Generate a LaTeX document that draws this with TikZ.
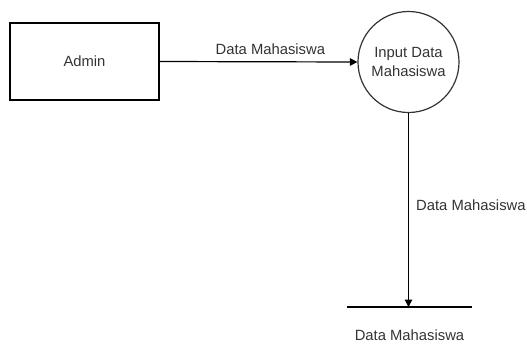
\documentclass[tikz,border=0pt]{standalone}
\usepackage{fontspec}
\setmainfont{Liberation Sans}
\usetikzlibrary{arrows.meta}
\begin{document}
\begin{tikzpicture}[x=1pt,y=-1pt,
  lbl/.style={font=\fontsize{14.8}{17}\selectfont, text=black!80, inner sep=0pt},
  flow/.style={draw=black, line width=1.2pt, -{Triangle[length=7.5pt,width=7.5pt]}},
  entity/.style={draw=black, line width=1.2pt, minimum width=149pt, minimum height=77pt, inner sep=0pt},
  proc/.style={draw=black!80, line width=1.2pt, circle, minimum size=101pt, inner sep=0pt, align=center, font=\fontsize{14.8}{19.5}\selectfont, text=black!80}]
\useasboundingbox (0,0) rectangle (527,354);
\node[entity] (admin) at (84.5,61.5) {};
\node[lbl] at (admin.center) {Admin};
\node[proc] (input) at (408.5,62) {Input Data\\Mahasiswa};
\coordinate (storel) at (347,307);
\coordinate (storer) at (472,307);
\coordinate (storein) at (408.5,307);
\draw[line width=1.5pt] (storel) -- (storer);
\node[lbl] (storelbl) at (409.5,335) {Data Mahasiswa};
\draw[flow] (admin.east) -- (input.west) node[lbl, pos=0.56, above=7pt] {Data Mahasiswa};
\draw[flow] (input.south) -- (storein);
\node[lbl, anchor=west] (flowlbl) at (416,205) {Data Mahasiswa};
\end{tikzpicture}
\end{document}
